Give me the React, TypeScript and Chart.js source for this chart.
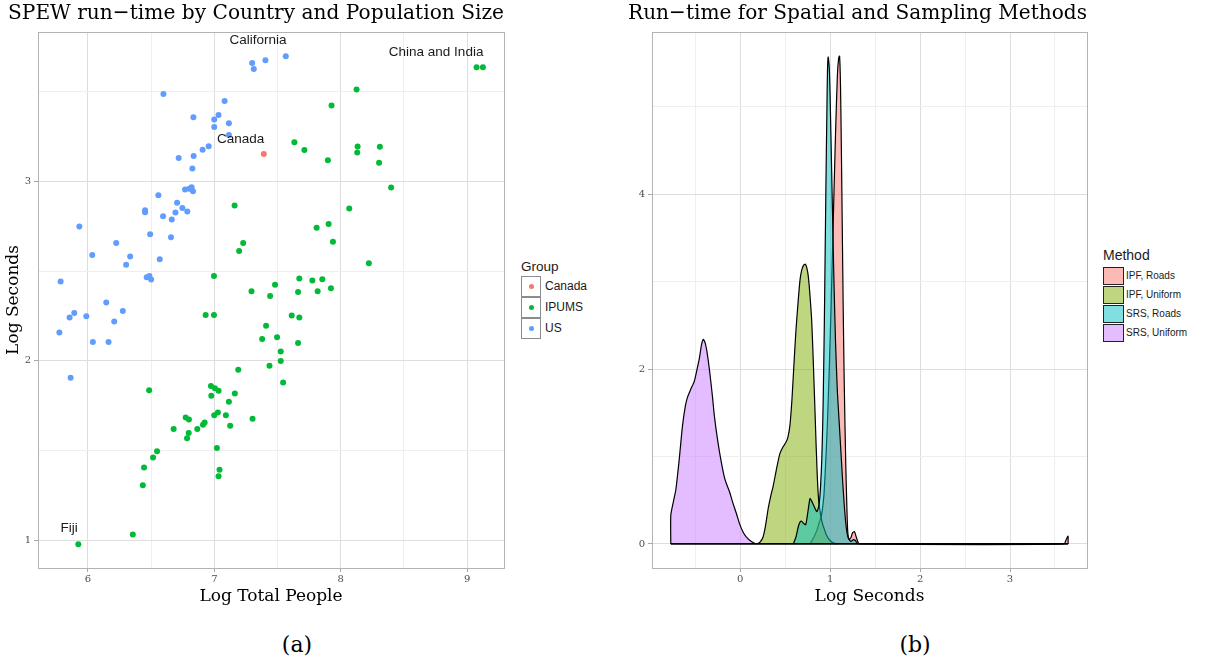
import React, { useEffect, useRef } from 'react';
import { Chart, registerables } from 'chart.js';

Chart.register(...registerables);

// ---------------- Panel (a): scatter ----------------
const usX = [7.299, 7.312, 7.404, 7.565, 6.597, 7.081, 6.834, 6.999, 7.033, 7.115, 6.999, 7.115, 6.955, 6.907, 6.718, 6.836, 6.826, 6.557, 6.768, 6.802, 6.820, 6.831, 6.705, 6.747, 6.692, 6.786, 6.452, 6.452, 6.594, 6.663, 6.657, 6.492, 5.932, 6.224, 6.034, 6.334, 6.302, 6.568, 6.465, 6.486, 6.500, 5.784, 6.145, 5.892, 5.855, 5.987, 6.276, 6.208, 5.774, 6.039, 6.163, 5.863];
const usY = [3.659, 3.626, 3.675, 3.697, 3.487, 3.448, 3.357, 3.344, 3.370, 3.324, 3.302, 3.258, 3.196, 3.176, 3.130, 3.141, 3.071, 2.923, 2.954, 2.958, 2.967, 2.945, 2.881, 2.852, 2.826, 2.832, 2.839, 2.828, 2.806, 2.788, 2.689, 2.705, 2.749, 2.656, 2.590, 2.581, 2.535, 2.566, 2.466, 2.473, 2.453, 2.442, 2.325, 2.266, 2.241, 2.248, 2.277, 2.219, 2.158, 2.105, 2.105, 1.906];

const ipumsX = [9.074, 9.124, 8.125, 7.927, 7.633, 7.712, 7.898, 8.133, 8.130, 8.309, 8.303, 8.398, 7.160, 8.067, 7.809, 7.904, 7.938, 7.228, 7.196, 8.222, 6.997, 7.672, 7.775, 7.854, 7.480, 7.294, 7.441, 7.662, 7.817, 7.922, 6.931, 6.997, 7.612, 7.672, 7.409, 7.378, 7.496, 7.662, 7.525, 7.525, 7.436, 7.544, 7.189, 6.484, 6.973, 7.004, 7.033, 6.976, 7.162, 7.115, 6.999, 7.028, 7.091, 7.302, 6.773, 6.799, 6.678, 6.865, 6.910, 6.923, 7.125, 6.797, 6.784, 7.020, 6.547, 6.515, 6.444, 7.041, 7.033, 6.434, 6.355, 5.924];
const ipumsY = [3.635, 3.635, 3.512, 3.423, 3.218, 3.174, 3.117, 3.194, 3.161, 3.192, 3.104, 2.965, 2.865, 2.848, 2.742, 2.762, 2.663, 2.656, 2.612, 2.544, 2.473, 2.458, 2.447, 2.455, 2.424, 2.387, 2.361, 2.383, 2.387, 2.405, 2.255, 2.255, 2.252, 2.241, 2.195, 2.122, 2.131, 2.100, 2.052, 1.999, 1.972, 1.880, 1.950, 1.836, 1.860, 1.847, 1.834, 1.805, 1.818, 1.772, 1.697, 1.712, 1.697, 1.677, 1.684, 1.673, 1.620, 1.620, 1.644, 1.657, 1.639, 1.598, 1.569, 1.514, 1.496, 1.461, 1.406, 1.393, 1.357, 1.307, 1.033, 0.978];

const canadaX = [7.391];
const canadaY = [3.152];

const groupNames = ['Canada', 'IPUMS', 'US'];
const groupColors = ['#F8766D', '#00BA38', '#619CFF'];

const noteTexts = ['California', 'Canada', 'China and India', 'Fiji'];
const noteX = [7.345, 7.208, 8.754, 5.852];
const noteY = [3.786, 3.236, 3.720, 1.067];

// ---------------- Panel (b): densities ----------------
const ipfRoadsX = [0.776, 0.81, 0.85, 0.88, 0.907, 0.93, 0.944, 0.958, 0.97, 0.99, 1.01, 1.037, 1.06, 1.08, 1.095, 1.105, 1.115, 1.125, 1.135, 1.145, 1.155, 1.165, 1.175, 1.185, 1.195, 1.21, 1.23, 1.25, 1.27, 1.29, 1.31, 1.325, 3.6, 3.625, 3.645, 3.646];
const ipfRoadsY = [0, 0.06, 0.15, 0.25, 0.35, 0.55, 0.8, 1.1, 1.4, 2.0, 2.7, 3.8, 4.7, 5.35, 5.56, 5.58, 5.25, 4.5, 3.6, 2.7, 1.95, 1.35, 0.85, 0.45, 0.15, 0.05, 0.07, 0.13, 0.14, 0.08, 0.02, 0, 0, 0.05, 0.09, 0];

const ipfUniformX = [0.187, 0.22, 0.254, 0.28, 0.31, 0.34, 0.366, 0.40, 0.44, 0.475, 0.507, 0.53, 0.552, 0.575, 0.597, 0.62, 0.646, 0.665, 0.683, 0.705, 0.724, 0.74, 0.757, 0.775, 0.795, 0.812, 0.832, 0.845, 0.858, 0.872, 0.888, 0.91, 0.935, 0.96, 0.99, 1.03, 1.07];
const ipfUniformY = [0, 0.02, 0.08, 0.2, 0.40, 0.55, 0.66, 0.84, 1.03, 1.11, 1.16, 1.22, 1.35, 1.65, 2.05, 2.45, 2.80, 3.02, 3.13, 3.19, 3.20, 3.16, 3.06, 2.85, 2.55, 2.1, 1.50, 1.1, 0.75, 0.50, 0.37, 0.25, 0.17, 0.10, 0.05, 0.015, 0];

const srsRoadsX = [0.59, 0.62, 0.646, 0.665, 0.683, 0.70, 0.728, 0.75, 0.776, 0.795, 0.813, 0.835, 0.851, 0.865, 0.877, 0.893, 0.907, 0.918, 0.925, 0.935, 0.944, 0.953, 0.963, 0.97, 0.978, 0.99, 1.0, 1.02, 1.04, 1.06, 1.08, 1.10, 1.12, 1.14, 1.16, 1.18, 1.2, 1.23, 1.26, 1.28, 1.3, 1.32];
const srsRoadsY = [0, 0.08, 0.2, 0.25, 0.26, 0.24, 0.22, 0.35, 0.52, 0.49, 0.45, 0.40, 0.37, 0.40, 0.45, 0.65, 0.97, 1.4, 1.8, 2.5, 3.3, 4.1, 4.9, 5.4, 5.57, 5.45, 5.1, 4.1, 3.1, 2.3, 1.75, 1.4, 1.05, 0.7, 0.4, 0.18, 0.07, 0.03, 0.05, 0.04, 0.01, 0];

const srsUniformX = [-0.772, -0.772, -0.74, -0.716, -0.68, -0.642, -0.61, -0.586, -0.55, -0.511, -0.48, -0.455, -0.43, -0.41, -0.39, -0.37, -0.343, -0.31, -0.287, -0.25, -0.213, -0.18, -0.157, -0.12, -0.082, -0.04, -0.007, 0.03, 0.067, 0.12, 0.172];
const srsUniformY = [0, 0.33, 0.50, 0.62, 0.95, 1.35, 1.58, 1.68, 1.77, 1.86, 2.00, 2.12, 2.28, 2.34, 2.30, 2.20, 2.0, 1.70, 1.46, 1.18, 0.95, 0.78, 0.70, 0.60, 0.47, 0.34, 0.23, 0.14, 0.08, 0.03, 0];

const methodNames = ['IPF, Roads', 'IPF, Uniform', 'SRS, Roads', 'SRS, Uniform'];
const methodFills = ['rgba(248,118,109,0.5)', 'rgba(124,174,0,0.5)', 'rgba(0,191,196,0.5)', 'rgba(199,124,255,0.5)'];

// ---------------- helpers ----------------
const SERIF = 'DejaVu Serif';
const SANS = 'Liberation Sans';
const pairs = (xs: number[], ys: number[]) => xs.map((x, i) => ({ x, y: ys[i] }));
const isMajor = (v: number, m: number) => Math.abs(v / m - Math.round(v / m)) < 1e-6;

const framePlugin = {
  id: 'frame',
  afterDraw(chart: any) {
    const { ctx, chartArea: a } = chart;
    ctx.save();
    ctx.strokeStyle = '#b3b3b3';
    ctx.lineWidth = 1;
    ctx.strokeRect(Math.round(a.left) + 0.5, Math.round(a.top) + 0.5, Math.round(a.right - a.left), Math.round(a.bottom - a.top));
    ctx.restore();
  },
};

const notesPlugin = {
  id: 'notes',
  afterDatasetsDraw(chart: any) {
    const { ctx, scales } = chart;
    ctx.save();
    ctx.font = `13.5px "${SANS}"`;
    ctx.fillStyle = '#1a1a1a';
    ctx.textAlign = 'center';
    ctx.textBaseline = 'middle';
    noteTexts.forEach((t, i) => {
      ctx.fillText(t, scales.x.getPixelForValue(noteX[i]), scales.y.getPixelForValue(noteY[i]));
    });
    ctx.restore();
  },
};

function axis(min: number, max: number, step: number, major: number, size: number, horizontal: boolean, title: any) {
  return {
    type: 'linear',
    min,
    max,
    afterFit: (s: any) => {
      if (horizontal) s.height = size;
      else s.width = size;
    },
    border: { display: false },
    grid: {
      color: (c: any) => (c.tick && isMajor(c.tick.value, major) ? '#dedede' : '#efefef'),
      lineWidth: 1,
      tickLength: 4,
      tickColor: (c: any) => (c.tick && isMajor(c.tick.value, major) ? '#a6a6a6' : 'rgba(0,0,0,0)'),
    },
    ticks: {
      stepSize: step,
      includeBounds: false,
      autoSkip: false,
      maxRotation: 0,
      padding: horizontal ? 1 : 3,
      color: '#4d4d4d',
      font: { family: SERIF, size: 10 },
      callback: (v: any) => (isMajor(Number(v), major) ? String(Math.round(Number(v))) : ''),
    },
    title,
  };
}

const titleFont = { family: SERIF, size: 21.3, weight: 'normal', lineHeight: 1.2 };

function ScatterPanel() {
  const ref = useRef<HTMLCanvasElement>(null);
  useEffect(() => {
    const chart = new Chart(ref.current as HTMLCanvasElement, {
      type: 'scatter',
      data: {
        datasets: [
          { label: groupNames[2], data: pairs(usX, usY), backgroundColor: groupColors[2], borderWidth: 0, pointRadius: 3 },
          { label: groupNames[1], data: pairs(ipumsX, ipumsY), backgroundColor: groupColors[1], borderWidth: 0, pointRadius: 3 },
          { label: groupNames[0], data: pairs(canadaX, canadaY), backgroundColor: groupColors[0], borderWidth: 0, pointRadius: 3 },
        ],
      },
      options: {
        responsive: false,
        animation: false,
        devicePixelRatio: 1,
        layout: { padding: { left: 8, right: 10, top: 0, bottom: 0 } },
        plugins: {
          legend: { display: false },
          tooltip: { enabled: false },
          title: {
            display: true,
            text: 'SPEW run\u2212time by Country and Population Size',
            align: 'start',
            color: '#000',
            font: titleFont,
            padding: { top: 1, bottom: 5.4 },
          },
        },
        scales: {
          x: axis(5.605, 9.291, 0.5, 1, 52, true, {
            display: true,
            text: 'Log Total People',
            color: '#000',
            font: { family: SERIF, size: 17, lineHeight: 1.2 },
            padding: { top: 0, bottom: 12.8 },
          }),
          y: axis(0.846, 3.832, 0.5, 1, 30, false, {
            display: true,
            text: 'Log Seconds',
            color: '#000',
            font: { family: SERIF, size: 17, lineHeight: 1.2 },
            padding: { top: -4.5, bottom: 0 },
          }),
        },
      } as any,
      plugins: [framePlugin, notesPlugin],
    });
    return () => chart.destroy();
  }, []);
  return <canvas ref={ref} width={514} height={620} style={{ position: 'absolute', left: 0, top: 0, width: 514, height: 620 }} />;
}

function DensityPanel() {
  const ref = useRef<HTMLCanvasElement>(null);
  useEffect(() => {
    const allX = [...ipfRoadsX, ...ipfUniformX, ...srsRoadsX, ...srsUniformX];
    const baseX = [Math.min(...allX), Math.max(...allX)];
    const baseY = [0, 0];
    const series = [
      [ipfRoadsX, ipfRoadsY],
      [ipfUniformX, ipfUniformY],
      [srsRoadsX, srsRoadsY],
      [srsUniformX, srsUniformY],
    ];
    const datasets: any[] = series.map((s, i) => ({
      label: methodNames[i],
      data: pairs(s[0], s[1]),
      backgroundColor: methodFills[i],
      borderColor: '#000',
      borderWidth: 1.2,
      fill: 'origin',
      pointRadius: 0,
      tension: 0.2,
      order: 4 - i,
    }));
    datasets.push({
      label: 'base',
      data: pairs(baseX, baseY),
      borderColor: '#000',
      borderWidth: 1.8,
      fill: false,
      pointRadius: 0,
      order: 0,
    });
    const chart = new Chart(ref.current as HTMLCanvasElement, {
      type: 'line',
      data: { datasets },
      options: {
        responsive: false,
        animation: false,
        devicePixelRatio: 1,
        layout: { padding: { left: 8, right: 5, top: 0, bottom: 0 } },
        plugins: {
          legend: { display: false },
          tooltip: { enabled: false },
          title: {
            display: true,
            text: 'Run\u2212time for Spatial and Sampling Methods',
            align: 'start',
            color: '#000',
            font: titleFont,
            padding: { top: 1, bottom: 5.7 },
          },
        },
        scales: {
          x: axis(-0.981, 3.856, 0.5, 1, 52, true, {
            display: true,
            text: 'Log Seconds',
            color: '#000',
            font: { family: SERIF, size: 17, lineHeight: 1.2 },
            padding: { top: 0, bottom: 12.8 },
          }),
          y: axis(-0.275, 5.853, 1, 2, 24, false, { display: false }),
        },
      } as any,
      plugins: [framePlugin],
    });
    return () => chart.destroy();
  }, []);
  return <canvas ref={ref} width={472} height={620} style={{ position: 'absolute', left: 620, top: 0, width: 472, height: 620 }} />;
}

function GroupLegend() {
  return (
    <div style={{ position: 'absolute', left: 521, top: 256, fontFamily: SANS, color: '#1a1a1a' }}>
      <div style={{ position: 'absolute', left: 0, top: 0, fontSize: 13.5, lineHeight: '21px', whiteSpace: 'nowrap' }}>Group</div>
      {groupNames.map((g, i) => (
        <div key={g}>
          <div style={{ position: 'absolute', left: 0, top: 20 + i * 21, width: 20, height: 21, boxSizing: 'border-box', border: '1px solid #8c8c8c', background: '#fff' }}>
            <div style={{ position: 'absolute', left: 6.5, top: 7, width: 5, height: 5, borderRadius: '50%', background: groupColors[i] }} />
          </div>
          <div style={{ position: 'absolute', left: 24, top: 20 + i * 21, lineHeight: '21px', fontSize: 12, whiteSpace: 'nowrap' }}>{g}</div>
        </div>
      ))}
    </div>
  );
}

function MethodLegend() {
  return (
    <div style={{ position: 'absolute', left: 1103, top: 246, fontFamily: SANS, color: '#1a1a1a' }}>
      <div style={{ position: 'absolute', left: 0, top: 0, fontSize: 14, lineHeight: '19px', whiteSpace: 'nowrap' }}>Method</div>
      {methodNames.map((m, i) => (
        <div key={m}>
          <div style={{ position: 'absolute', left: 0, top: 21 + i * 19, width: 20.5, height: 17.5, boxSizing: 'border-box', border: '1.5px solid #222', background: methodFills[i] }} />
          <div style={{ position: 'absolute', left: 23, top: 21 + i * 19, lineHeight: '17.5px', fontSize: 10, whiteSpace: 'nowrap' }}>{m}</div>
        </div>
      ))}
    </div>
  );
}

export default function App() {
  return (
    <div style={{ position: 'absolute', left: 0, top: 0, width: 1209, height: 664, background: '#fff', overflow: 'hidden' }}>
      <ScatterPanel />
      <DensityPanel />
      <GroupLegend />
      <MethodLegend />
      <div style={{ position: 'absolute', left: 247, width: 100, top: 630, textAlign: 'center', fontFamily: SERIF, fontSize: 22, lineHeight: '30px' }}>(a)</div>
      <div style={{ position: 'absolute', left: 865, width: 100, top: 630, textAlign: 'center', fontFamily: SERIF, fontSize: 22, lineHeight: '30px' }}>(b)</div>
    </div>
  );
}
